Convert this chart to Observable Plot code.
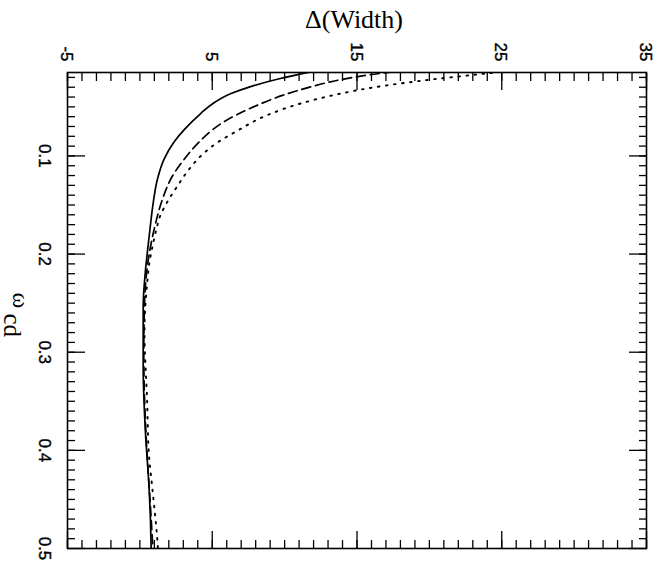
<!DOCTYPE html>
<html>
<head>
<meta charset="utf-8">
<script src="https://cdn.jsdelivr.net/npm/d3@7"></script>
<script src="https://cdn.jsdelivr.net/npm/@observablehq/plot@0.6"></script>
<style>
  html, body { margin: 0; padding: 0; background: #fff; }
  #chart svg { display: block; }
</style>
</head>
<body>
<div id="chart"></div>
<script>
// ω_cd values and Δ(Width) for each curve
const solidOmega = [0.0143, 0.0211, 0.0296, 0.0364, 0.046, 0.0568, 0.0735, 0.087, 0.104, 0.1245, 0.148, 0.1755, 0.1993, 0.216, 0.254, 0.315, 0.383, 0.434, 0.471, 0.5];
const solidWidth = [11.8, 9.7, 7.6, 6.3, 5.1, 4.2, 3.05, 2.3, 1.65, 1.2, 0.92, 0.69, 0.51, 0.39, 0.23, 0.23, 0.39, 0.62, 0.73, 0.78];

const dashOmega = [0.0143, 0.0177, 0.0228, 0.0296, 0.0381, 0.0517, 0.0653, 0.0735, 0.0857, 0.104, 0.121, 0.145, 0.169, 0.189, 0.209, 0.25, 0.30, 0.35, 0.40, 0.45, 0.5];
const dashWidth = [17.5, 15.7, 13.7, 11.8, 9.9, 7.6, 5.8, 5.0, 4.1, 3.03, 2.23, 1.54, 1.08, 0.78, 0.55, 0.32, 0.27, 0.33, 0.48, 0.7, 0.9];

const dotOmega = [0.0145, 0.0182, 0.0219, 0.0262, 0.0313, 0.038, 0.0466, 0.0585, 0.0755, 0.0854, 0.0972, 0.114, 0.131, 0.147, 0.162, 0.1755, 0.196, 0.206, 0.23, 0.28, 0.349, 0.403, 0.437, 0.49, 0.5];
const dotWidth = [24.9, 22.56, 20.28, 18.0, 15.7, 13.4, 11.1, 8.8, 6.6, 5.45, 4.42, 3.38, 2.58, 1.89, 1.38, 1.13, 0.82, 0.69, 0.5, 0.32, 0.5, 0.62, 0.85, 1.2, 1.25];

// Tick values and labels
const xMajorTicks = [-5, 5, 15, 25, 35];
const xTickLabels = ["-5", "5", "15", "25", "35"];
const xMinorTicks = d3.range(-5, 35.5, 1);
const yMajorTicks = [0.1, 0.2, 0.3, 0.4, 0.5];
const yTickLabels = ["0.1", "0.2", "0.3", "0.4", "0.5"];
const yMinorTicks = d3.range(2, 50).map(i => i / 100);
const xTitle = ["Δ(Width)"];
const yTitleMain = ["ω"];
const yTitleSub = ["cd"];

const toRows = (om, w) => om.map((o, i) => ({omega: o, width: w[i]}));
const solid = toRows(solidOmega, solidWidth);
const dashed = toRows(dashOmega, dashWidth);
const dotted = toRows(dotOmega, dotWidth);

const sans = "'Liberation Sans', Arial, sans-serif";
const serif = "'Liberation Serif', 'Times New Roman', serif";

const tickOpts = {tickFormat: () => "", label: null, strokeWidth: 1.3};

const chart = Plot.plot({
  width: 663,
  height: 565,
  marginLeft: 67,
  marginRight: 17,
  marginTop: 72,
  marginBottom: 17,
  style: {fontFamily: sans, fontSize: "17px", color: "#000", background: "#fff"},
  x: {domain: [-5, 35], label: null},
  y: {domain: [0.015, 0.5], reverse: true, label: null},
  marks: [
    // inward ticks on all four sides
    Plot.axisX({anchor: "top", ticks: xMinorTicks, tickSize: -8, ...tickOpts}),
    Plot.axisX({anchor: "top", ticks: xMajorTicks, tickSize: -17, ...tickOpts}),
    Plot.axisX({anchor: "bottom", ticks: xMinorTicks, tickSize: -8, ...tickOpts}),
    Plot.axisX({anchor: "bottom", ticks: xMajorTicks, tickSize: -17, ...tickOpts}),
    Plot.axisY({anchor: "left", ticks: yMinorTicks, tickSize: -8, ...tickOpts}),
    Plot.axisY({anchor: "left", ticks: yMajorTicks, tickSize: -18, ...tickOpts}),
    Plot.axisY({anchor: "right", ticks: yMinorTicks, tickSize: -8, ...tickOpts}),
    Plot.axisY({anchor: "right", ticks: yMajorTicks, tickSize: -18, ...tickOpts}),
    // rotated tick labels
    Plot.text(xMajorTicks, {x: d => d, text: (d, i) => xTickLabels[i], frameAnchor: "top", dy: -11, dx: -1, rotate: 90, textAnchor: "end", lineAnchor: "middle", fontSize: 17, fontFamily: sans, fill: "#000", stroke: "#000", strokeWidth: 0.4}),
    Plot.text(yMajorTicks, {y: d => d, text: (d, i) => yTickLabels[i], frameAnchor: "left", dx: -16, rotate: 90, textAnchor: "middle", lineAnchor: "top", fontSize: 17, fontFamily: sans, fill: "#000", stroke: "#000", strokeWidth: 0.4}),
    Plot.frame({stroke: "#000", strokeWidth: 1.6}),
    // curves
    Plot.line(solid, {x: "width", y: "omega", curve: "monotone-y", stroke: "#000", strokeWidth: 1.7, clip: true}),
    Plot.line(dashed, {x: "width", y: "omega", curve: "monotone-y", stroke: "#000", strokeWidth: 1.7, strokeDasharray: "9,5", clip: true}),
    Plot.line(dotted, {x: "width", y: "omega", curve: "monotone-y", stroke: "#000", strokeWidth: 1.9, strokeDasharray: "1.6,6.5", clip: true}),
    // titles
    Plot.text(xTitle, {text: d => d, frameAnchor: "top", lineAnchor: "middle", dx: -3, dy: -53, fontSize: 26, fontFamily: serif, fill: "#000"}),
    Plot.text(yTitleMain, {text: d => d, frameAnchor: "left", lineAnchor: "middle", dx: -47, dy: -18, rotate: 90, fontSize: 24, fontFamily: serif, fill: "#000"}),
    Plot.text(yTitleSub, {text: d => d, frameAnchor: "left", lineAnchor: "middle", dx: -56, dy: 3, rotate: 90, fontSize: 25, fontFamily: serif, fill: "#000"})
  ]
});
document.getElementById("chart").appendChild(chart);
</script>
</body>
</html>
